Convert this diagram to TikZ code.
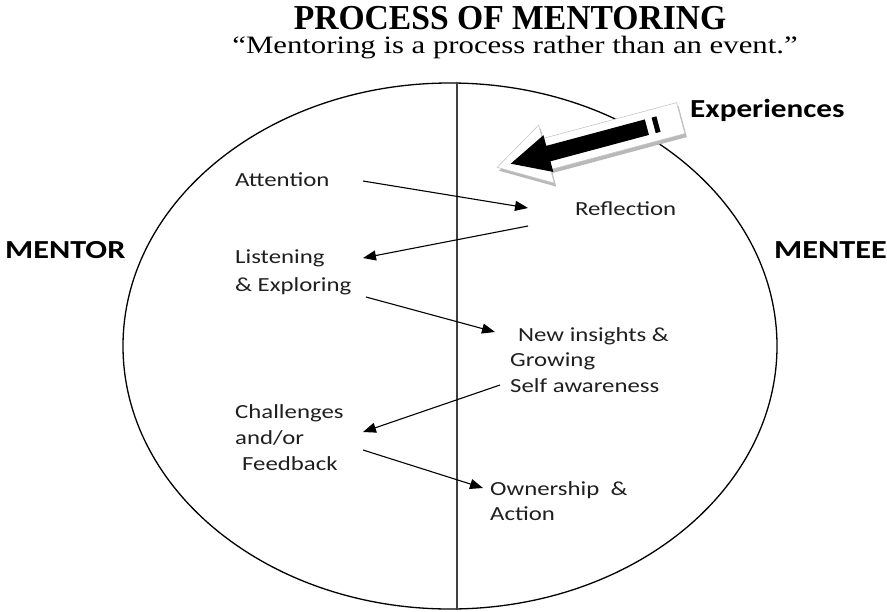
\documentclass[tikz,border=0pt]{standalone}
\usepackage{fontspec}
\usepackage{graphicx}
\setmainfont{Liberation Serif}
\newfontfamily\calib{Carlito}
\usetikzlibrary{arrows.meta,shapes.geometric}
% Calibri-style labels are set a little wider than their natural width
\newcommand{\wide}[1]{\scalebox{1.24}[1]{#1}}

\begin{document}
\begin{tikzpicture}[x=1pt,y=-1pt,
  note/.style={anchor=base west, inner sep=0pt, text=black!88,
    font=\calib\fontsize{20}{24}\selectfont},
  side/.style={anchor=base west, inner sep=0pt,
    font=\calib\bfseries\fontsize{26}{30}\selectfont},
  flow/.style={line width=1.1pt, -{Triangle[length=13pt,width=10pt]}},
]
\useasboundingbox (0,0) rectangle (887,611);

% heading
\node[anchor=base, inner sep=0pt, font=\bfseries\fontsize{35}{40}\selectfont]
  (title) at (510,29) {\scalebox{0.96}[1]{PROCESS OF MENTORING}};
\node[anchor=base, inner sep=0pt, font=\fontsize{25}{30}\selectfont]
  (motto) at (515,53) {\scalebox{1.23}[1]{“Mentoring is a process rather than an event.”}};

% the relationship and its dividing line
\node[draw, line width=1.3pt, ellipse, minimum width=654pt, minimum height=526pt,
  inner sep=0pt] (ring) at (450,346) {};
\coordinate (divx) at (457,0);
\draw[line width=1.6pt, black!75] (ring.north -| divx) -- (ring.south -| divx);

% incoming experiences: outlined block arrow with a soft shadow
\begin{scope}[shift={(504,169.5)}, rotate=15]
  \fill[gray!55] (-5,0) -- (46,-30) -- (46,-16) -- (185,-16) -- (185,16)
    -- (46,16) -- (46,30) -- cycle;
\end{scope}
\begin{scope}[shift={(502,166)}, rotate=15]
  \filldraw[fill=white, draw=gray!45, line width=0.6pt]
    (-5,0) -- (46,-30) -- (46,-16) -- (185,-16) -- (185,16)
    -- (46,16) -- (46,30) -- cycle;
  \fill[black] (9,0) -- (48,-19) -- (48,-8) -- (150,-8) -- (150,8)
    -- (48,8) -- (48,19) -- cycle;
  \fill[black] (157,-8) rectangle (162,8);
\end{scope}
\node[side] (exper) at (690,117) {\scalebox{1.2}[1]{Experiences}};

% sides
\node[side] (mentor) at (5,258) {\wide{MENTOR}};
\node[side] (mentee) at (774,258) {\wide{MENTEE}};

% mentor steps
\node[note] (att)     at (235,186) {\wide{Attention}};
\node[note] (listen)  at (235,263) {\wide{Listening}};
\node[note] (explore) at (235,291) {\wide{\& Exploring}};
\node[note] (chal)    at (235,418) {\wide{Challenges}};
\node[note] (andor)   at (235,444) {\wide{and/or}};
\node[note] (feed)    at (242,470) {\wide{Feedback}};

% mentee steps
\node[note] (refl) at (575,215) {\wide{Reflection}};
\node[note] (ins)  at (518,341) {\wide{New insights \&}};
\node[note] (grow) at (510,366) {\wide{Growing}};
\node[note] (self) at (510,392) {\wide{Self awareness}};
\node[note] (own)  at (490,495) {\wide{Ownership\ \ \&}};
\node[note] (act)  at (490,520) {\wide{Action}};

% the back-and-forth of the process
\draw[flow] ([shift={(128,-5)}]att.base west) -- ([shift={(-47,-7)}]refl.base west);
\draw[flow] ([shift={(-47,11)}]refl.base west) -- ([shift={(128,-5)}]listen.base west);
\draw[flow] ([shift={(131,6)}]explore.base west) -- ([shift={(-23,-9)}]ins.base west);
\draw[flow] ([shift={(-10,-7)}]self.base west) -- ([shift={(128,14)}]chal.base west);
\draw[flow] ([shift={(128,6)}]andor.base west) -- ([shift={(-7,-7)}]own.base west);
\end{tikzpicture}
\end{document}
